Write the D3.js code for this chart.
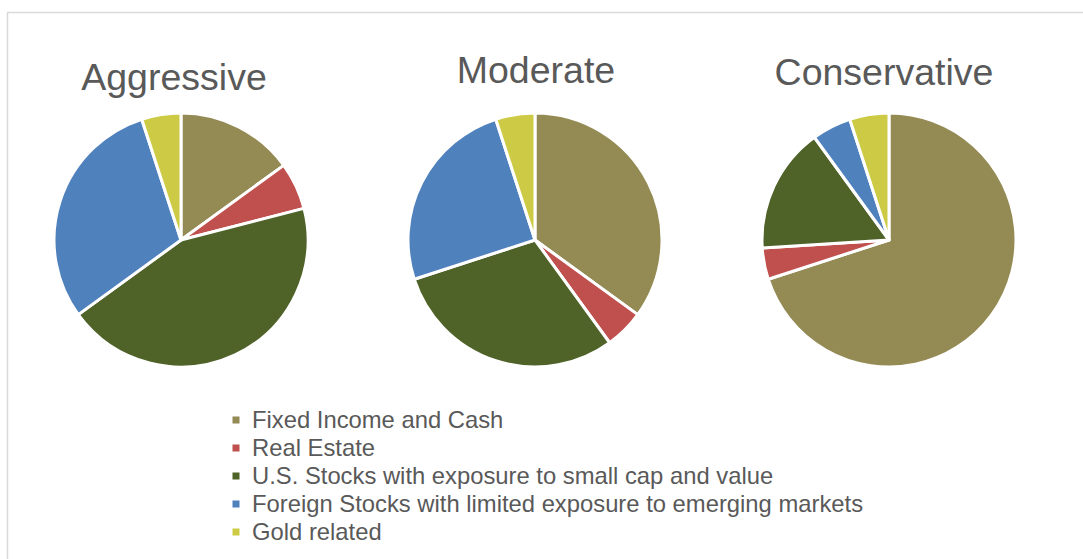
<!DOCTYPE html>
<html>
<head>
    <meta charset="utf-8">
    <title>Portfolio allocations</title>
    <script src="https://cdn.jsdelivr.net/npm/d3@7"></script>
    <style>
        body { margin: 0; background: #fff; }
        svg text { font-family: "Liberation Sans", Arial, sans-serif; fill: #595959; }
    </style>
</head>
<body>
<div id="chart"></div>
<script>
    // asset classes, in slice order (clockwise from 12 o'clock)
    const assets = [
        "Fixed Income and Cash",
        "Real Estate",
        "U.S. Stocks with exposure to small cap and value",
        "Foreign Stocks with limited exposure to emerging markets",
        "Gold related"
    ];
    const profiles = ["Aggressive", "Moderate", "Conservative"];

    // % per asset class
    const aggressive = [15, 6, 44, 30, 5];
    const moderate = [35, 5, 30, 25, 5];
    const conservative = [70, 4, 16, 5, 5];

    const COLORS = ["#948A54", "#C0504D", "#4F6228", "#4F81BD", "#CDCB46"];

    const W = 1083, H = 559;
    const radius = 127;
    const pieY = 240;

    const svg = d3.select("#chart").append("svg")
        .attr("width", W)
        .attr("height", H);

    // chart frame (runs off the right and bottom of the shot)
    svg.append("rect")
        .attr("x", 7.5).attr("y", 12.5)
        .attr("width", W + 20).attr("height", H + 20)
        .attr("fill", "none")
        .attr("stroke", "#D9D9D9")
        .attr("stroke-width", 1.5);

    const x = d3.scalePoint().domain(profiles).range([181, 889]);
    const color = d3.scaleOrdinal().domain(assets).range(COLORS);

    const pie = d3.pie().sort(null).value(d => d.value);
    const arc = d3.arc().innerRadius(0).outerRadius(radius);

    const series = [aggressive, moderate, conservative];
    // small nudges so titles sit where Excel put them
    const titleShift = [{ dx: -7, y: 90 }, { dx: 1, y: 83 }, { dx: -5, y: 85 }];

    profiles.forEach(function (p, i) {
        const cx = x(p);
        const g = svg.append("g").attr("transform", "translate(" + cx + "," + pieY + ")");
        const rows = assets.map((a, j) => ({ asset: a, value: series[i][j] }));

        g.selectAll("path")
            .data(pie(rows))
            .join("path")
            .attr("d", arc)
            .attr("fill", d => color(d.data.asset))
            .attr("stroke", "#fff")
            .attr("stroke-width", 3)
            .attr("stroke-linejoin", "round");

        svg.append("text")
            .attr("x", cx + titleShift[i].dx)
            .attr("y", titleShift[i].y)
            .attr("text-anchor", "middle")
            .style("font-size", "37.5px")
            .text(p);
    });

    // legend
    const legY = d3.scalePoint().domain(assets).range([420, 532]);
    const leg = svg.append("g").attr("class", "legend");
    const item = leg.selectAll("g")
        .data(assets)
        .join("g")
        .attr("transform", d => "translate(236," + legY(d) + ")");

    item.append("rect")
        .attr("x", -3.5).attr("y", -3.5)
        .attr("width", 7).attr("height", 7)
        .attr("fill", d => color(d));

    item.append("text")
        .attr("x", 16)
        .attr("dy", "0.35em")
        .style("font-size", "23.8px")
        .text(d => d);
</script>
</body>
</html>
